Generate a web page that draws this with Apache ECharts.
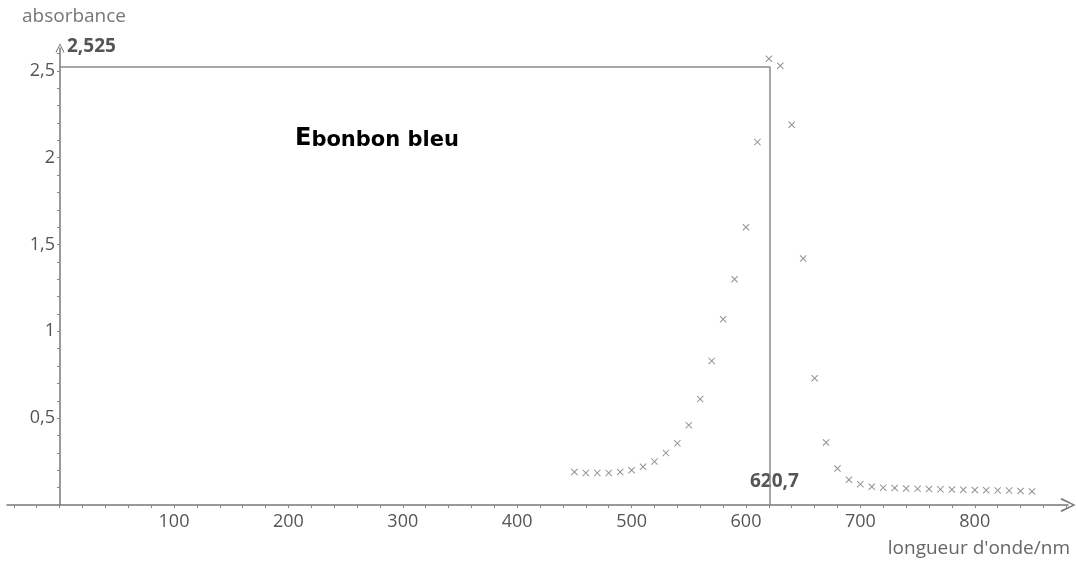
<!DOCTYPE html>
<html>
<head>
<meta charset="utf-8">
<script src="https://cdn.jsdelivr.net/npm/echarts@6/dist/echarts.min.js"></script>
<style>
  html, body { margin: 0; padding: 0; background: #fff; }
  #chart { width: 1076px; height: 572px; }
</style>
</head>
<body>
<div id="chart"></div>
<script>
// longueur d'onde (nm) et absorbance
const wavelengths = [450, 460, 470, 480, 490, 500, 510, 520, 530, 540,
  550, 560, 570, 580, 590, 600, 610, 620, 630, 640,
  650, 660, 670, 680, 690, 700, 710, 720, 730, 740,
  750, 760, 770, 780, 790, 800, 810, 820, 830, 840, 850];
const absorbance = [0.19, 0.185, 0.185, 0.185, 0.19, 0.20, 0.22, 0.25, 0.30, 0.355,
  0.46, 0.61, 0.83, 1.07, 1.30, 1.60, 2.09, 2.57, 2.53, 2.19,
  1.42, 0.73, 0.36, 0.21, 0.145, 0.12, 0.105, 0.10, 0.098, 0.095,
  0.093, 0.092, 0.09, 0.089, 0.088, 0.086, 0.085, 0.084, 0.083, 0.081, 0.078];

const xLabels = [100, 200, 300, 400, 500, 600, 700, 800];
const yLabels = [0.5, 1, 1.5, 2, 2.5];

// lecture du maximum
const lambdaMax = 620.7;
const absMax = 2.525;

// graduations secondaires
const xTicks = [];
for (let v = -40; v <= 880; v += 20) xTicks.push(v);
const yTicks = [];
for (let i = 1; i <= 26; i++) yTicks.push(+(i / 10).toFixed(1));

const arrow = 'path://M0,10L5,0L10,10L9,10.8L5,2.2L1,10.8Z';
const cross = 'path://M0,1L1,0L5,4L9,0L10,1L6,5L10,9L9,10L5,6L1,10L0,9L4,5Z';
const comma = v => String(v).replace('.', ',');

const chart = echarts.init(document.getElementById('chart'));

chart.setOption({
  backgroundColor: '#fff',
  animation: false,
  grid: { left: 7, right: 8, top: 48, bottom: 67, containLabel: false, outerBoundsMode: 'none' },
  xAxis: {
    type: 'value',
    min: -46,
    max: 881.5,
    splitLine: { show: false },
    axisLine: {
      onZero: true,
      symbol: ['none', arrow],
      symbolSize: [14, 16],
      lineStyle: { color: '#777', width: 1.5 }
    },
    axisTick: { customValues: xTicks, length: 3, lineStyle: { color: '#888' } },
    axisLabel: {
      customValues: xLabels,
      color: '#555',
      fontSize: 18,
      fontFamily: 'Open Sans',
      margin: 8
    }
  },
  yAxis: {
    type: 'value',
    min: 0,
    max: 2.632,
    // l'axe vertical passe par x = 0 (46 nm après le bord gauche)
    offset: -53,
    splitLine: { show: false },
    axisLine: {
      onZero: false,
      symbol: ['none', arrow],
      symbolSize: [9, 12],
      lineStyle: { color: '#777', width: 1.5 }
    },
    axisTick: { customValues: yTicks, length: 3, lineStyle: { color: '#888' } },
    axisLabel: {
      customValues: yLabels,
      formatter: comma,
      color: '#555',
      fontSize: 18,
      fontFamily: 'Open Sans',
      margin: 5
    }
  },
  graphic: [
    { type: 'text', left: 22, top: 7,
      style: { text: 'absorbance', fill: '#777', font: '19px "Open Sans"' } },
    { type: 'text', right: 6, top: 539,
      style: { text: "longueur d'onde/nm", fill: '#666', font: '19px "Open Sans"' } },
    { type: 'text', left: 67, top: 37,
      style: { text: comma(absMax), fill: '#555', font: 'bold 19px "Open Sans"' } },
    { type: 'text', left: 750, top: 472,
      style: { text: comma(lambdaMax), fill: '#555', font: 'bold 19px "Open Sans"' } },
    { type: 'text', left: 295, top: 127,
      style: {
        text: '{a|E}{b|bonbon bleu}',
        rich: {
          a: { fontSize: 24, fontWeight: 'bold', fontFamily: 'DejaVu Sans', fill: '#000', verticalAlign: 'bottom' },
          b: { fontSize: 21, fontWeight: 'bold', fontFamily: 'DejaVu Sans', fill: '#000', verticalAlign: 'bottom' }
        }
      } }
  ],
  series: [{
    type: 'scatter',
    data: wavelengths.map((w, i) => [w, absorbance[i]]),
    symbol: cross,
    symbolSize: 7,
    itemStyle: { color: '#777' },
    markLine: {
      silent: true,
      symbol: 'none',
      label: { show: false },
      lineStyle: { color: '#888', width: 1.5, type: 'solid' },
      data: [
        [{ coord: [0, absMax] }, { coord: [lambdaMax, absMax] }],
        [{ coord: [lambdaMax, absMax] }, { coord: [lambdaMax, 0] }]
      ]
    }
  }]
});
</script>
</body>
</html>
